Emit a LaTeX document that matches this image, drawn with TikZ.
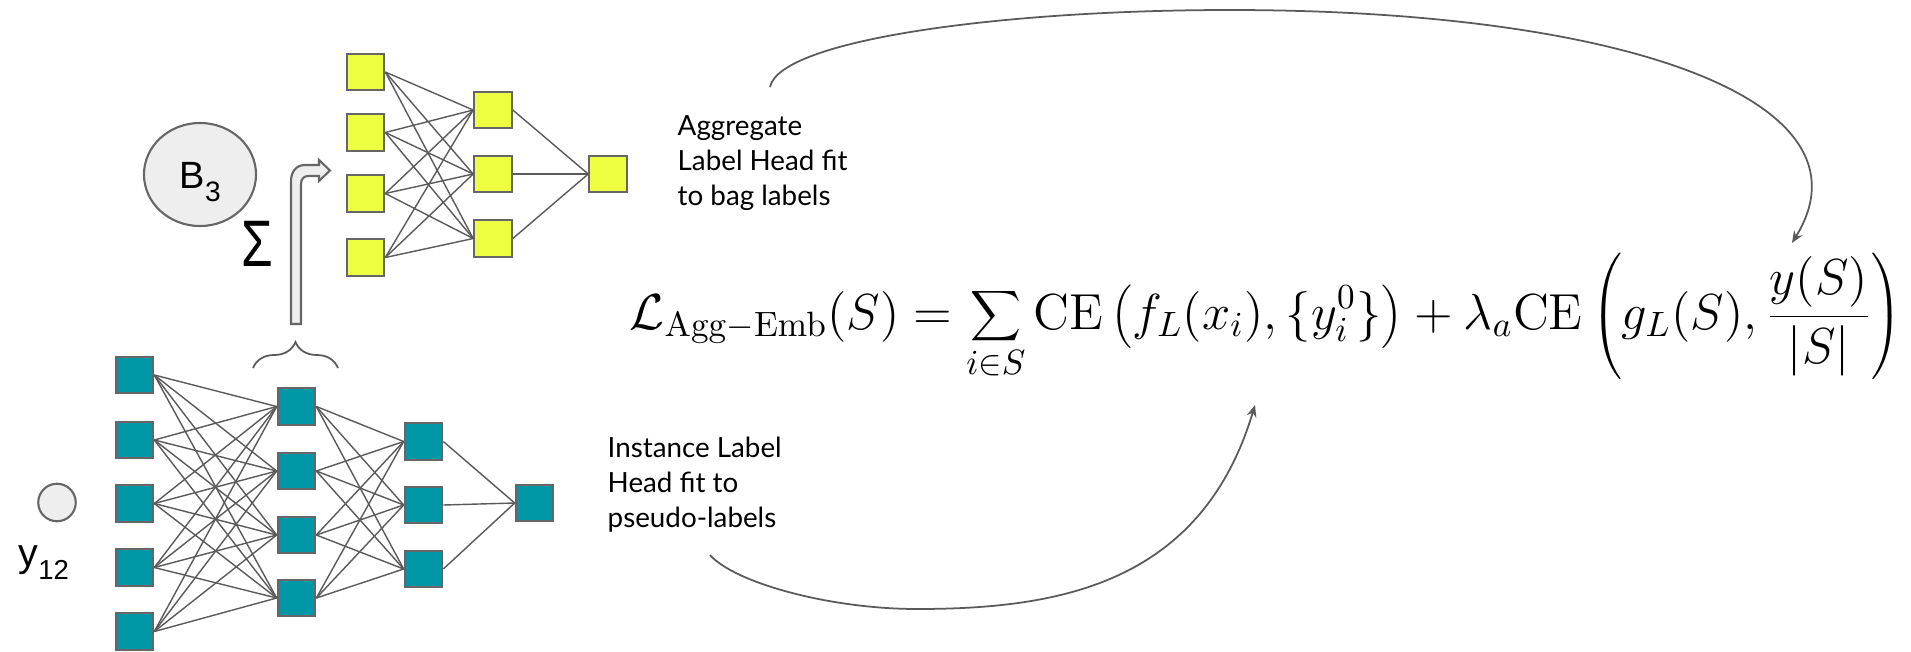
\documentclass[tikz,border=0pt]{standalone}
\usepackage[no-math]{fontspec}
\usepackage{graphicx}
\usetikzlibrary{arrows.meta,shapes.geometric,decorations.pathreplacing}

\newfontfamily\googlesans{Lato}
\newfontfamily\arialsans{Liberation Sans}

\definecolor{nnteal}{HTML}{0097A7}
\definecolor{nnlime}{HTML}{EEFF41}
\definecolor{nnedge}{HTML}{666666}
\definecolor{nnline}{HTML}{5A5A5A}
\definecolor{nnbag}{HTML}{EEEEEE}

\tikzset{
    neuron/.style={draw=nnedge, line width=0.6pt, minimum width=0.375cm,
        minimum height=0.365cm, inner sep=0pt},
    limeneuron/.style={neuron, fill=nnlime},
    tealneuron/.style={neuron, fill=nnteal},
    link/.style={nnline, line width=0.4pt},
    lossarrow/.style={nnline, line width=0.5pt, -{Stealth[length=3.4pt,width=2.8pt]}},
    headtext/.style={font=\googlesans\fontsize{7.9}{10}\selectfont, align=left,
        inner sep=0pt, anchor=north west},
    symtext/.style={font=\arialsans, inner sep=0pt},
}

\begin{document}
\begin{tikzpicture}[x=0.01cm, y=-0.01cm]
        \useasboundingbox (0,0) rectangle (1911,651);

        % agregační hlava
        \foreach \y [count=\i] in {72,132.5,193.5,257.5}
            \node[limeneuron] (la\i) at (365.5,\y) {};
        \foreach \y [count=\i] in {110,174,238.5}
            \node[limeneuron] (lb\i) at (493,\y) {};
        \node[limeneuron] (lc1) at (608,174) {};
        \foreach \i in {1,...,4}
            \foreach \j in {1,...,3}
                \draw[link] (la\i.east) -- (lb\j.west);
        \foreach \j in {1,...,3}
            \draw[link] (lb\j.east) -- (lc1.west);

        % instanční síť
        \foreach \y [count=\i] in {375,440,503.5,567.5,631.5}
            \node[tealneuron] (ta\i) at (134.5,\y) {};
        \foreach \y [count=\i] in {406.5,471,535,598}
            \node[tealneuron] (tb\i) at (296.5,\y) {};
        \foreach \y [count=\i] in {441.5,505,569}
            \node[tealneuron] (tc\i) at (423.5,\y) {};
        \node[tealneuron] (td1) at (534.5,503) {};
        \foreach \i in {1,...,5}
            \foreach \j in {1,...,4}
                \draw[link] (ta\i.east) -- (tb\j.west);
        \foreach \i in {1,...,4}
            \foreach \j in {1,...,3}
                \draw[link] (tb\i.east) -- (tc\j.west);
        \foreach \j in {1,...,3}
            \draw[link] (tc\j.east) -- (td1.west);

        % bag a instance
        \node[ellipse, draw=nnedge, fill=nnbag, line width=0.6pt, inner sep=0pt,
            minimum width=1.12cm, minimum height=1.03cm] (bag) at (200,174.5) {};
        \node[symtext, anchor=base west] (baglabel) at (179,188)
            {\fontsize{10.8}{12}\selectfont B\raisebox{-3.9pt}{\fontsize{8}{9}\selectfont 3}};
        \node[circle, draw=nnedge, fill=nnbag, line width=0.6pt, inner sep=0pt,
            minimum size=0.375cm] (inst) at (57,502.5) {};
        \node[symtext, anchor=base west] (instlabel) at (18,566)
            {\fontsize{11.2}{12}\selectfont y\raisebox{-3.7pt}{\fontsize{7.8}{9}\selectfont 12}};
        \node[symtext] (sumsign) at (257.5,243.5)
            {\fontsize{18.7}{20}\selectfont\scalebox{0.78}[1]{Σ}};

        % složená šipka a závorka
        \draw[nnedge, fill=nnbag, line width=0.6pt]
            (291,324) -- (291,181) .. controls (291,172) and (296,165) .. (305,165)
            -- (319,165) -- (319,160) -- (330,170.5) -- (319,181) -- (319,176)
            -- (308,176) .. controls (304,176) and (301,179) .. (301,184)
            -- (301,324) -- cycle;
        \draw[nnline, line width=0.5pt, decorate, decoration={brace, amplitude=7.4pt}]
            (253,368) -- (338,368);

        % popisky
        \node[headtext] (aggtext) at (677,115)
            {Aggregate\\Label Head fit\\to bag labels};
        \node[headtext] (insttext) at (607,436)
            {Instance Label\\Head fit to\\pseudo-labels};

        % ztrátová funkce
        \node[inner sep=0pt, anchor=base west] (loss) at (629,329)
            {\fontsize{14.7}{17}\selectfont$\displaystyle
            \mathcal{L}_{\mathrm{Agg-Emb}}(S) = \sum_{i \in S} \mathrm{CE}\left(f_L(x_i), \{y_i^0\}\right)
            + \lambda_a \mathrm{CE}\left(g_L(S), \frac{y(S)}{|S|}\right)$};

        % šipky ke členům
        \coordinate (aggtail) at (770,87);
        \coordinate (aggtop) at (1230,10);
        \coordinate (aggtip) at (1792,243);
        \draw[lossarrow] (aggtail) .. controls (780,40) and (1000,10) .. (aggtop)
            .. controls (1623,10) and (1880,100) .. (aggtip);

        \coordinate (insttail) at (710,555);
        \coordinate (instlow) at (917,609);
        \coordinate (insttip) at (1255,405);
        \draw[lossarrow] (insttail) .. controls (735,583) and (830,609) .. (instlow)
            .. controls (1057,609) and (1201,585) .. (insttip);
\end{tikzpicture}
\end{document}
